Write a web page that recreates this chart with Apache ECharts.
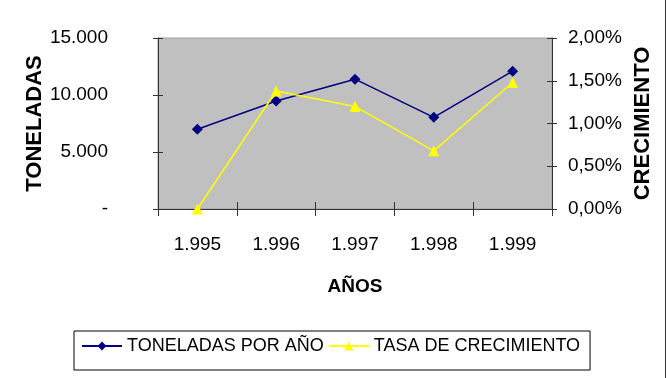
<!DOCTYPE html>
<html>
<head>
<meta charset="utf-8">
<script src="https://cdn.jsdelivr.net/npm/echarts@6/dist/echarts.min.js"></script>
<style>
html,body{margin:0;padding:0;background:#fff;}
#c{width:666px;height:378px;}
</style>
</head>
<body>
<div id="c"></div>
<script>
var categories = ['1.995', '1.996', '1.997', '1.998', '1.999'];
var toneladas = [7000, 9470, 11390, 8040, 12090];
var tasa = [0, 1.38, 1.20, 0.68, 1.48];
var leftTicks = [0, 5000, 10000, 15000];
var leftTickLabels = ['-', '5.000', '10.000', '15.000'];
var rightTicks = [0, 0.5, 1, 1.5, 2];
var rightTickLabels = ['0,00%', '0,50%', '1,00%', '1,50%', '2,00%'];
var seriesNames = ['TONELADAS POR AÑO', 'TASA DE CRECIMIENTO'];

var FONT = "'Liberation Sans', Arial, sans-serif";
var FONTB = "'Liberation Sans', Arial, sans-serif";
var axisCol = '#333333';

function lab(ticks, labels) {
  return function (v) {
    for (var i = 0; i < ticks.length; i++) if (Math.abs(ticks[i] - v) < 1e-9) return labels[i];
    return '';
  };
}

var chart = echarts.init(document.getElementById('c'));
chart.setOption({
  animation: false,
  backgroundColor: '#ffffff',
  grid: {
    left: 158, right: 114, top: 38, bottom: 169,
    show: true, backgroundColor: '#c0c0c0', borderColor: '#a0a0a0', borderWidth: 1
  },
  xAxis: [{
    type: 'category', data: categories, boundaryGap: true,
    name: 'AÑOS', nameLocation: 'middle', nameGap: 68, nameMoveOverlap: false,
    nameTextStyle: { fontFamily: FONTB, fontWeight: 'bold', fontSize: 19, color: '#000' },
    axisLine: { lineStyle: { color: axisCol, width: 1 } },
    axisTick: { show: true, length: 7, lineStyle: { color: axisCol } },
    axisLabel: { margin: 26, fontFamily: FONT, fontSize: 19, color: '#000' },
    splitLine: { show: false }
  }, {
    type: 'category', data: categories, boundaryGap: true, position: 'bottom',
    axisLine: { show: false },
    axisTick: { show: true, inside: true, length: 7, lineStyle: { color: axisCol } },
    axisLabel: { show: false }, splitLine: { show: false }
  }],
  yAxis: [{
    type: 'value', min: 0, max: 15000, interval: 5000, position: 'left',
    name: 'TONELADAS', nameLocation: 'middle', nameGap: 112, nameRotate: 90, nameMoveOverlap: false,
    nameTextStyle: { fontFamily: FONTB, fontWeight: 'bold', fontSize: 22, color: '#000' },
    axisLine: { show: true, lineStyle: { color: axisCol } },
    axisTick: { show: true, length: 5, lineStyle: { color: axisCol } },
    axisLabel: { margin: 50, fontFamily: FONT, fontSize: 19, color: '#000', formatter: lab(leftTicks, leftTickLabels) },
    splitLine: { show: false }
  }, {
    type: 'value', min: 0, max: 2, interval: 0.5, position: 'right',
    name: 'CRECIMIENTO', nameLocation: 'middle', nameGap: 80, nameRotate: 90, nameMoveOverlap: false,
    nameTextStyle: { fontFamily: FONTB, fontWeight: 'bold', fontSize: 22, color: '#000' },
    axisLine: { show: true, lineStyle: { color: axisCol } },
    axisTick: { show: true, length: 5, lineStyle: { color: axisCol } },
    axisLabel: { margin: 16, fontFamily: FONT, fontSize: 19, color: '#000', formatter: lab(rightTicks, rightTickLabels) },
    splitLine: { show: false }
  }, {
    type: 'value', min: 0, max: 15000, interval: 5000, position: 'left',
    axisLine: { show: false },
    axisTick: { show: true, inside: true, length: 5, lineStyle: { color: axisCol } },
    axisLabel: { show: false }, splitLine: { show: false }
  }, {
    type: 'value', min: 0, max: 2, interval: 0.5, position: 'right',
    axisLine: { show: false },
    axisTick: { show: true, inside: true, length: 5, lineStyle: { color: axisCol } },
    axisLabel: { show: false }, splitLine: { show: false }
  }],
  legend: {
    left: 74, top: 331, width: 580, orient: 'horizontal',
    padding: [6, 10, 15, 7],
    itemGap: 4, itemWidth: 40, itemHeight: 11,
    borderColor: '#000', borderWidth: 1,
    textStyle: { fontFamily: FONT, fontSize: 18, color: '#000' },
    data: seriesNames
  },
  series: [{
    name: seriesNames[0], type: 'line', xAxisIndex: 0, yAxisIndex: 0,
    data: toneladas, color: '#000080',
    symbol: 'diamond', symbolSize: 11,
    lineStyle: { width: 1.5, color: '#000080' },
    itemStyle: { color: '#000080' }
  }, {
    name: seriesNames[1], type: 'line', xAxisIndex: 0, yAxisIndex: 1,
    data: tasa, color: '#ffff00',
    symbol: 'triangle', symbolSize: 11,
    lineStyle: { width: 1.5, color: '#ffff00' },
    itemStyle: { color: '#ffff00' }
  }],
  graphic: [{
    type: 'line', shape: { x1: 665.5, y1: 0, x2: 665.5, y2: 378 },
    style: { stroke: '#333', lineWidth: 1 }
  }]
});
</script>
</body>
</html>
